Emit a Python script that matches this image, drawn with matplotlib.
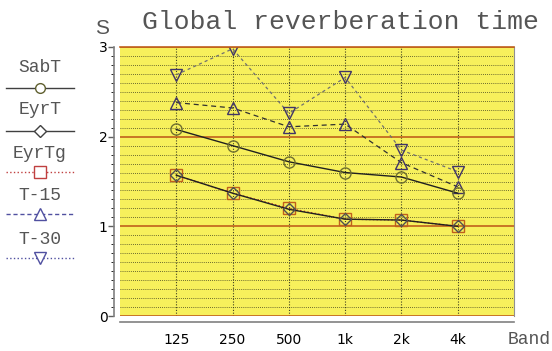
import matplotlib
matplotlib.use("Agg")
import matplotlib.pyplot as plt
from matplotlib.ticker import MultipleLocator

# Бэнды и значения времени реверберации (с)
bands = ["125", "250", "500", "1k", "2k", "4k"]
sab_t = [2.08, 1.90, 1.72, 1.60, 1.55, 1.37]
eyr_t = [1.57, 1.37, 1.19, 1.08, 1.07, 1.00]
eyr_tg = [1.57, 1.37, 1.20, 1.08, 1.07, 1.00]
t15 = [2.38, 2.32, 2.11, 2.14, 1.71, 1.44]
t30 = [2.69, 2.98, 2.26, 2.66, 1.85, 1.61]

MONO = "Liberation Mono"
YELLOW = "#f7f05c"
BROWN = "#c0601c"
TEXT = "#555555"

fig = plt.figure(figsize=(5.52, 3.51), dpi=100)
ax = fig.add_axes([120 / 552, 1 - 316 / 351, 394 / 552, 269 / 351])
ax.set_facecolor(YELLOW)

x = list(range(len(bands)))

# сетка: мелкая пунктирная каждые 0.1, крупная на целых
ax.yaxis.set_minor_locator(MultipleLocator(0.1))
ax.grid(which="minor", axis="y", color="#404020", linestyle=(0, (1, 1.5)), linewidth=0.6)
ax.grid(which="major", axis="y", color=BROWN, linestyle="-", linewidth=1.2)
ax.grid(which="major", axis="x", color="#404020", linestyle=(0, (1, 1.5)), linewidth=0.8)
ax.set_axisbelow(True)

ax.plot(x, t30, color="#707070", linestyle=(0, (2.5, 2.5)), linewidth=0.9,
        marker="v", markersize=8.5, markerfacecolor="none", markeredgecolor="#403468")
ax.plot(x, t15, color="#303030", linestyle=(0, (4, 3)), linewidth=0.9,
        marker="^", markersize=8.5, markerfacecolor="none", markeredgecolor="#403468")
ax.plot(x, eyr_tg, color="#c03030", linestyle=":", linewidth=1,
        marker="s", markersize=8.5, markerfacecolor="none", markeredgecolor=BROWN)
ax.plot(x, eyr_t, color="#202020", linestyle="-", linewidth=1,
        marker="D", markersize=6, markerfacecolor="none", markeredgecolor="#505050")
ax.plot(x, sab_t, color="#202020", linestyle="-", linewidth=1,
        marker="o", markersize=8, markerfacecolor="none", markeredgecolor="#707030")

ax.set_xlim(-1, 6)
ax.set_ylim(0, 3)
ax.set_xticks(x)
ax.set_xticklabels(bands, fontfamily=MONO, fontsize=13.5, color=TEXT)
ax.set_yticks([0, 1, 2, 3])
ax.set_yticklabels(["0", "1", "2", "3"], fontfamily="Liberation Sans", fontsize=16, color=TEXT)
ax.tick_params(axis="x", length=0, pad=8)
ax.tick_params(axis="y", length=4, width=1, color="#606060", pad=1)

for side in ["left", "bottom"]:
    ax.spines[side].set_position(("outward", 4))
    ax.spines[side].set_color("#808080")
    ax.spines[side].set_linewidth(1.2)
ax.spines["top"].set_color(BROWN)
ax.spines["top"].set_linewidth(1.2)
ax.spines["right"].set_color("#909090")
ax.spines["right"].set_linewidth(0.8)

fig.text(340 / 552, 1 - 22 / 351, "Global reverberation time", fontfamily=MONO,
         fontsize=19, color=TEXT, ha="center", va="center")
fig.text(102 / 552, 1 - 28 / 351, "S", fontfamily="Liberation Sans", fontsize=15,
         color=TEXT, ha="center", va="center")
fig.text(551 / 552, 1 - 340 / 351, "Band", fontfamily=MONO, fontsize=13,
         color=TEXT, ha="right", va="center")

# легенда слева
lg = fig.add_axes([0, 0, 80 / 552, 1])
lg.set_xlim(0, 80)
lg.set_ylim(351, 0)
lg.axis("off")
entries = [
    ("SabT", 68, 88, dict(color="#404040", linestyle="-", marker="o", markersize=7,
                           markeredgecolor="#606030")),
    ("EyrT", 110, 131, dict(color="#404040", linestyle="-", marker="D", markersize=6,
                             markeredgecolor="#404040")),
    ("EyrTg", 153, 172, dict(color="#c04040", linestyle=":", marker="s", markersize=8,
                              markeredgecolor="#c04040")),
    ("T-15", 196, 214, dict(color="#5050a0", linestyle=(0, (3, 2)), marker="^", markersize=8,
                             markeredgecolor="#5050a0")),
    ("T-30", 239, 258, dict(color="#5050a0", linestyle=":", marker="v", markersize=8,
                             markeredgecolor="#5050a0")),
]
for label, ty, ly, style in entries:
    lg.text(40, ty, label, fontfamily=MONO, fontsize=13, color=TEXT,
            ha="center", va="center")
    lg.plot([6, 74], [ly, ly], linewidth=1, **{k: v for k, v in style.items() if k.startswith(("color", "linestyle"))})
    lg.plot([40], [ly], linestyle="none", markerfacecolor="white",
            **{k: v for k, v in style.items() if k.startswith("marker")})

fig.savefig("out.png", dpi=100, facecolor="white")
